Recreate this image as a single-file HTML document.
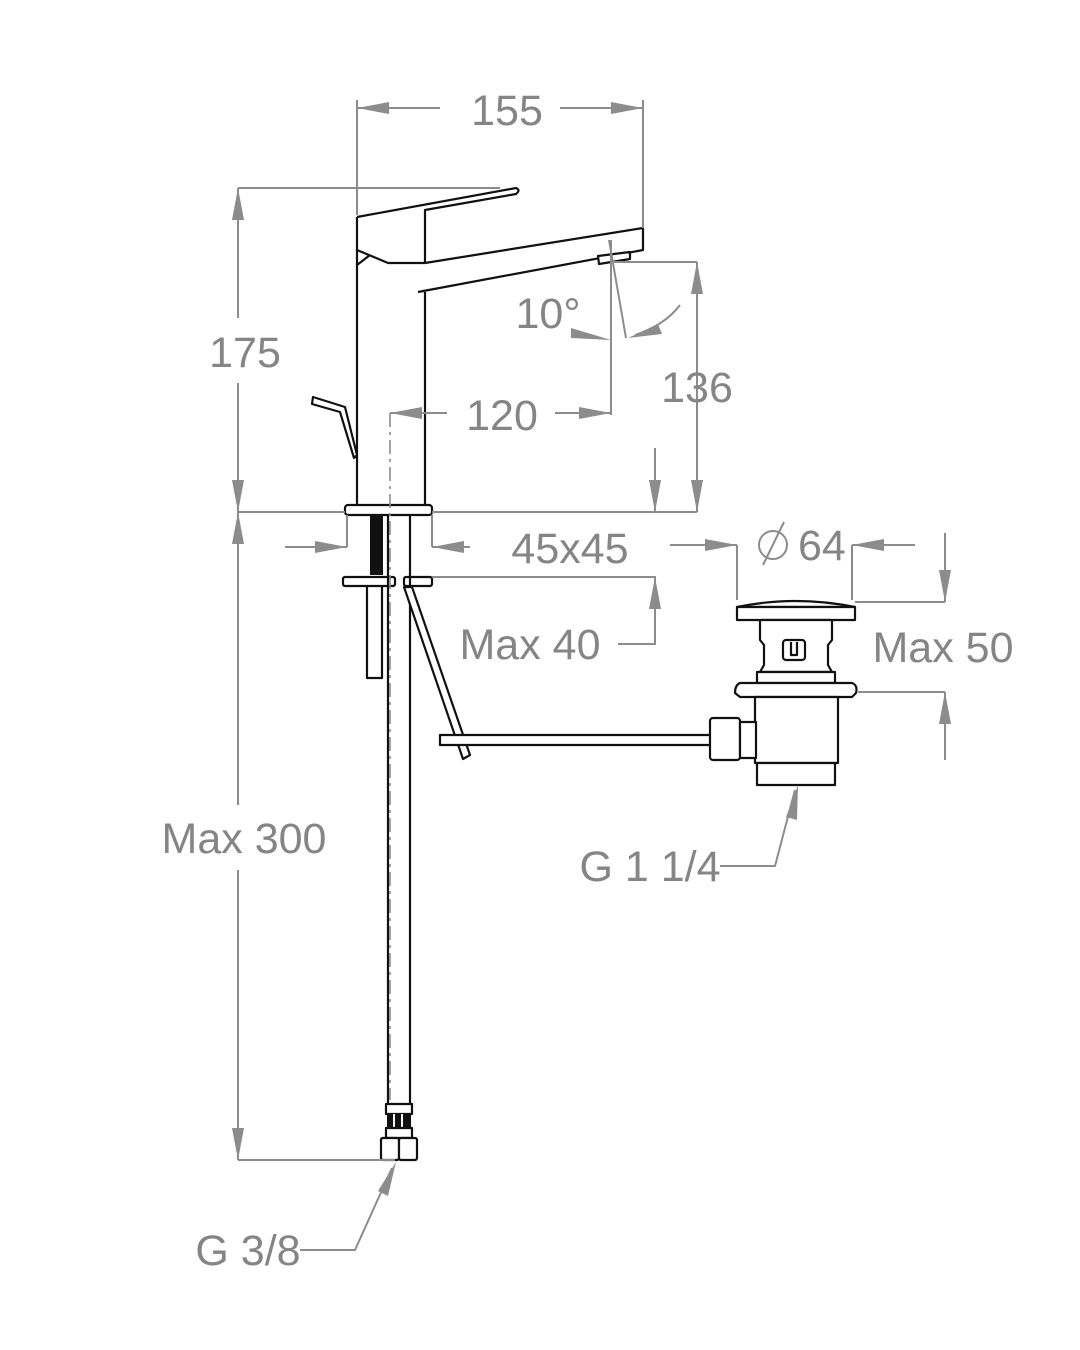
<!DOCTYPE html>
<html><head><meta charset="utf-8"><style>
html,body{margin:0;padding:0;background:#fff}
svg{display:block}
text{font-family:"Liberation Sans",sans-serif;font-size:43px;fill:#858585}
.d{stroke:#8c8c8c;stroke-width:2;fill:none}
.a{fill:#8c8c8c;stroke:none}
.k{stroke:#111;stroke-width:2.2;fill:#fff;stroke-linejoin:round}
.kn{stroke:#111;stroke-width:2.2;fill:none;stroke-linejoin:round}
</style></head><body>
<svg width="1080" height="1350" viewBox="0 0 1080 1350" xmlns="http://www.w3.org/2000/svg">
<!-- faucet (drawn first, no fill) -->
<path class="kn" d="M357 217V505 M425 292V505"/>
<path class="kn" d="M357 217L516 188Q521 190 516 194L425 210V263"/>
<path class="kn" d="M357 250L388 263H425 M357 265L370 255"/>
<path class="kn" d="M425 263L643 228V250L418 292"/>
<path class="k" d="M598 256L630 252V259L599 264Z"/>
<path class="k" d="M313 397L345 407L357 455L354 458L340 412L312 404Z"/>
<rect class="k" x="345" y="505" width="87" height="10" rx="3"/>
<path d="M370 515H383V575H370Z" fill="#111"/>
<rect class="k" x="367" y="585" width="15" height="93"/>
<rect class="k" x="343" y="577" width="52" height="9" rx="2"/>
<rect class="k" x="404" y="577" width="28" height="9" rx="2"/>
<path class="kn" d="M388 515V1104 M410 515V1104"/>
<rect class="k" x="386" y="1104" width="26" height="10"/>
<path d="M387 1114H411V1128H387Z" fill="#111"/>
<path d="M394 1114V1128M402 1114V1128" stroke="#fff" stroke-width="2"/>
<rect class="k" x="386" y="1128" width="26" height="10"/>
<rect class="k" x="381" y="1138" width="18" height="22" rx="2"/>
<rect class="k" x="399" y="1138" width="18" height="22" rx="2"/>
<path class="k" d="M404 587L412 587L470 755L463 759Z"/>
<rect class="k" x="440" y="735" width="272" height="10"/>
<!-- waste -->
<path class="k" d="M737 607Q795 595 855 607Z"/>
<rect class="k" x="737" y="607" width="118" height="13"/>
<path class="k" d="M760 620H832V640L828 645V665L832 672H760L764 665V645L760 640Z"/>
<rect class="k" x="783" y="640" width="22" height="20" rx="3"/>
<path class="kn" d="M791 642V655H797V642"/>
<rect class="k" x="757" y="672" width="78" height="11"/>
<path class="k" d="M740 683H852Q858 685 856 693L852 697H740L735 693Q735 685 740 683Z"/>
<path class="k" d="M755 697H838V763H755V750H742V730H755Z"/>
<rect class="k" x="757" y="763" width="78" height="22"/>
<rect class="k" x="710" y="718" width="30" height="42" rx="3"/>
<rect class="k" x="740" y="722" width="16" height="36"/>

<!-- 155 -->
<path class="d" d="M357 100V215 M643 100V228 M357 108H440 M560 108H643"/>
<path class="a" d="M357 108l32-6v12z M643 108l-32-6v12z"/>
<text x="507" y="125" text-anchor="middle">155</text>
<!-- 175 / Max300 -->
<path class="d" d="M238 188H500 M238 188V318 M238 383V512 M238 512V805 M238 870V1160 M238 1160H395 M238 512H345 M432 512H697"/>
<path class="a" d="M238 188l-6 32h12z M238 512l-6-32h12z M238 512l-6 32h12z M238 1160l-6-32h12z"/>
<text x="245" y="367" text-anchor="middle">175</text>
<text x="244" y="853" text-anchor="middle">Max 300</text>
<!-- 136 -->
<path class="d" d="M611 262H697 M697 262V512"/>
<path class="a" d="M697 262l-6 32h12z M697 512l-6-32h12z"/>
<text x="697" y="402" text-anchor="middle">136</text>
<path class="d" d="M655 448V512"/><path class="a" d="M655 512l-6-32h12z"/>
<!-- 10° & 120 -->
<path class="d" d="M611 240V415 M609 240L626 338 M680 305Q665 325 635 335"/>
<path class="a" d="M611 340l-40-12v10z M628 338l30-14 4 10z"/>
<text x="548" y="328" text-anchor="middle">10°</text>
<path class="d" d="M390 413H447 M555 413H611"/>
<path class="a" d="M390 413l32-6v12z M611 413l-32-6v12z"/>
<text x="502" y="430" text-anchor="middle">120</text>
<path d="M390 413V1100" stroke="#8c8c8c" stroke-width="1.6" stroke-dasharray="14 5 3 5" fill="none"/>
<!-- 45x45 -->
<path class="d" d="M347 515V547 M432 515V547 M285 547H347 M432 547H470"/>
<path class="a" d="M347 547l-32-6v12z M432 547l32-6v12z"/>
<text x="570" y="563" text-anchor="middle">45x45</text>
<!-- Max 40 -->
<path class="d" d="M432 577H655V644H618"/>
<path class="a" d="M655 577l-6 32h12z"/>
<text x="530" y="659" text-anchor="middle">Max 40</text>
<!-- Ø64 -->
<path class="d" d="M737 545V600 M852 545V600 M670 545H737 M852 545H915"/>
<path class="a" d="M737 545l-32-6v12z M852 545l32-6v12z"/>
<circle cx="773" cy="545" r="14" class="d" stroke-width="1.8"/><path class="d" d="M763 565L784 522" stroke-width="1.8"/>
<text x="798" y="560">64</text>
<!-- Max 50 -->
<path class="d" d="M855 602H945 M945 533V602 M858 692H945 M945 692V760"/>
<path class="a" d="M945 602l-6-32h12z M945 692l-6 32h12z"/>
<text x="943" y="662" text-anchor="middle">Max 50</text>
<!-- G 1 1/4 -->
<path class="d" d="M720 866H775L795 790"/><path class="a" d="M798 785l-1 35-11-3z"/>
<text x="650" y="881" text-anchor="middle">G 1 1/4</text>
<!-- G 3/8 -->
<path class="d" d="M300 1250H355L392 1168"/><path class="a" d="M396 1162l-8 34-10-5z"/>
<text x="248" y="1265" text-anchor="middle">G 3/8</text>
</svg>
</body></html>
